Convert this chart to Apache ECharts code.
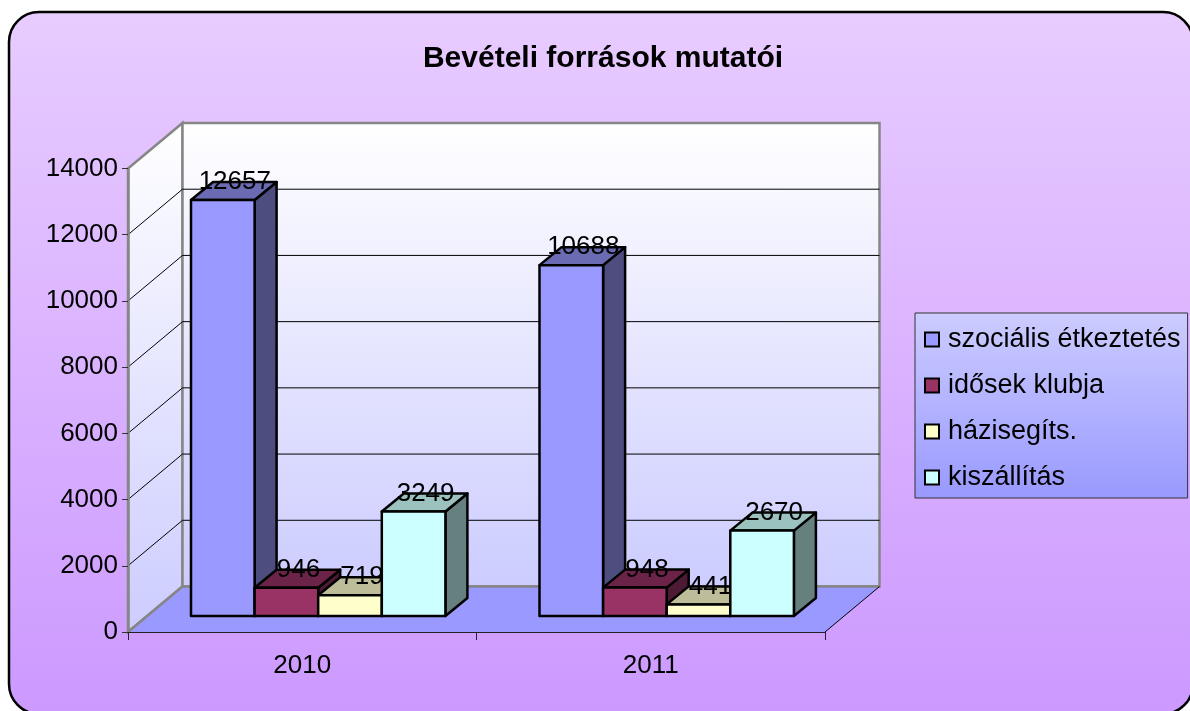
<!DOCTYPE html>
<html>
<head>
<meta charset="utf-8">
<title>Bevételi források mutatói</title>
<script src="https://cdn.jsdelivr.net/npm/echarts@6/dist/echarts.min.js"></script>
<style>
html, body { margin: 0; padding: 0; background: #fff; }
#main { width: 1190px; height: 711px; }
</style>
</head>
<body>
<div id="main"></div>
<script>
var years = ['2010', '2011'];
var yTicks = [0, 2000, 4000, 6000, 8000, 10000, 12000, 14000];
var seriesNames = ['szociális étkeztetés', 'idősek klubja', 'házisegíts.', 'kiszállítás'];
var szocialis = [12657, 10688];
var idosek = [946, 948];
var hazisegits = [719, 441];
var kiszallitas = [3249, 2670];
var seriesValues = [szocialis, idosek, hazisegits, kiszallitas];

var frontColors = ['#9999ff', '#993366', '#ffffcc', '#ccffff'];
var topColors = ['#6b6bb3', '#6b2447', '#bdbd99', '#9cc2c0'];
var sideColors = ['#4d4d80', '#4d1a33', '#80806a', '#667f7f'];

var font = '"Liberation Sans", Arial, sans-serif';

// depth of the box, as seen on screen
var wallDx = 54.5, wallDy = 45.5;
var barDx = 22, barDy = 18;
var barInset = 63, barShare = 0.1825;
var baseLift = 16, topLift = 13;

function renderWalls(params, api) {
    var cs = params.coordSys;
    var left = cs.x, right = cs.x + cs.width;
    var y0 = api.coord([0, 0])[1];
    var yMax = api.coord([0, yTicks[yTicks.length - 1]])[1];
    var wallFill = new echarts.graphic.LinearGradient(0, 0, 0, 1, [
        { offset: 0, color: '#ffffff' },
        { offset: 1, color: '#ccccff' }
    ]);
    var gray = { stroke: '#868686', lineWidth: 2.5, fill: wallFill };
    var children = [
        {
            type: 'polygon',
            shape: { points: [[left, yMax], [left + wallDx, yMax - wallDy], [left + wallDx, y0 - wallDy], [left, y0]] },
            style: gray
        },
        {
            type: 'rect',
            shape: { x: left + wallDx, y: yMax - wallDy, width: cs.width, height: y0 - yMax },
            style: gray
        },
        {
            type: 'polygon',
            shape: { points: [[left, y0], [left + wallDx, y0 - wallDy], [right + wallDx, y0 - wallDy], [right, y0]] },
            style: { fill: '#9999ff', stroke: null }
        },
        {
            type: 'line',
            shape: { x1: left + wallDx, y1: y0 - wallDy, x2: right + wallDx, y2: y0 - wallDy },
            style: { stroke: '#868686', lineWidth: 2.5 }
        },
        {
            type: 'line',
            shape: { x1: right, y1: y0, x2: right + wallDx, y2: y0 - wallDy },
            style: { stroke: '#000', lineWidth: 1 }
        },
        {
            type: 'line',
            shape: { x1: left, y1: y0, x2: left + wallDx, y2: y0 - wallDy },
            style: { stroke: '#868686', lineWidth: 2.5 }
        }
    ];
    yTicks.slice(1, -1).forEach(function (v) {
        var y = api.coord([0, v])[1];
        children.push({
            type: 'polyline',
            shape: { points: [[left, y], [left + wallDx, y - wallDy], [right + wallDx, y - wallDy]] },
            style: { stroke: '#000', lineWidth: 1, fill: null }
        });
    });
    return { type: 'group', children: children };
}

function barBox(api, i) {
    var band = api.size([1, 0])[0];
    var w = band * barShare;
    var c = api.coord([api.value(0), 0]);
    var x = c[0] - band / 2 + barInset + i * w;
    return {
        x: x,
        w: w,
        base: c[1] - baseLift,
        top: api.coord([api.value(0), api.value(1)])[1] - topLift
    };
}

function renderBar(i) {
    return function (params, api) {
        var b = barBox(api, i);
        var edge = { stroke: '#000', lineWidth: 2.5, lineJoin: 'round' };
        return {
            type: 'group',
            children: [
                {
                    type: 'polygon',
                    shape: { points: [[b.x + b.w, b.top], [b.x + b.w + barDx, b.top - barDy], [b.x + b.w + barDx, b.base - barDy], [b.x + b.w, b.base]] },
                    style: Object.assign({ fill: sideColors[i] }, edge)
                },
                {
                    type: 'polygon',
                    shape: { points: [[b.x, b.top], [b.x + barDx, b.top - barDy], [b.x + b.w + barDx, b.top - barDy], [b.x + b.w, b.top]] },
                    style: Object.assign({ fill: topColors[i] }, edge)
                },
                {
                    type: 'rect',
                    shape: { x: b.x, y: b.top, width: b.w, height: b.base - b.top },
                    style: Object.assign({ fill: frontColors[i] }, edge)
                }
            ]
        };
    };
}

function renderLabel(i) {
    return function (params, api) {
        var b = barBox(api, i);
        return {
            type: 'text',
            style: {
                x: b.x + b.w / 2 + barDx / 2 + 1,
                y: b.top - barDy,
                text: String(api.value(1)),
                fill: '#000',
                font: '26px ' + font,
                textAlign: 'center',
                textVerticalAlign: 'middle'
            }
        };
    };
}

var series = [{
    type: 'custom',
    z: 1,
    silent: true,
    renderItem: renderWalls,
    data: [[0, 0]]
}];

seriesValues.forEach(function (values, i) {
    series.push({
        name: seriesNames[i],
        type: 'custom',
        z: 3 + i,
        renderItem: renderBar(i),
        itemStyle: { color: frontColors[i], borderColor: '#000', borderWidth: 2 },
        data: values.map(function (v, k) { return [k, v]; })
    });
});

seriesValues.forEach(function (values, i) {
    series.push({
        type: 'custom',
        z: 10,
        silent: true,
        renderItem: renderLabel(i),
        data: values.map(function (v, k) { return [k, v]; })
    });
});

var option = {
    animation: false,
    textStyle: { fontFamily: font },
    graphic: [{
        type: 'rect',
        z: -10,
        silent: true,
        shape: { x: 9, y: 12, width: 1184, height: 702, r: 30 },
        style: {
            fill: new echarts.graphic.LinearGradient(0, 0, 0, 1, [
                { offset: 0, color: '#e8ccff' },
                { offset: 1, color: '#cc99ff' }
            ]),
            stroke: '#000',
            lineWidth: 2.5
        }
    }],
    title: {
        text: 'Bevételi források mutatói',
        left: 598,
        top: 39,
        textAlign: 'center',
        textStyle: { fontFamily: font, fontSize: 30, fontWeight: 'bold', color: '#000' }
    },
    legend: {
        orient: 'vertical',
        left: 915,
        top: 313,
        padding: [13, 7, 7, 9],
        itemGap: 19,
        itemWidth: 14,
        itemHeight: 14,
        icon: 'rect',
        data: seriesNames,
        backgroundColor: new echarts.graphic.LinearGradient(0, 0, 0, 1, [
            { offset: 0, color: '#ccccff' },
            { offset: 1, color: '#9999ff' }
        ]),
        borderColor: '#333',
        borderWidth: 1,
        textStyle: { fontFamily: font, fontSize: 27, color: '#000', padding: [0, 0, 0, 4] }
    },
    grid: { left: 128, right: 365, top: 168.5, bottom: 79 },
    xAxis: {
        type: 'category',
        data: years,
        z: 2,
        axisLine: { show: true, lineStyle: { color: '#222', width: 1 } },
        axisTick: { show: true, length: 8, lineStyle: { color: '#222' } },
        axisLabel: { fontFamily: font, fontSize: 26, color: '#000', margin: 21 }
    },
    yAxis: {
        type: 'value',
        min: 0,
        max: 14000,
        interval: 2000,
        z: 2,
        splitLine: { show: false },
        axisLine: { show: true, lineStyle: { color: '#868686', width: 2.5 } },
        axisTick: { show: true, length: 6, lineStyle: { color: '#333' } },
        axisLabel: {
            fontFamily: font,
            fontSize: 26,
            color: '#000',
            margin: 10,
            padding: [3, 0, 0, 0],
            formatter: function (v) { return String(v); }
        }
    },
    series: series
};

var myChart = echarts.init(document.getElementById('main'), null, { renderer: 'canvas' });
myChart.setOption(option);
</script>
</body>
</html>
